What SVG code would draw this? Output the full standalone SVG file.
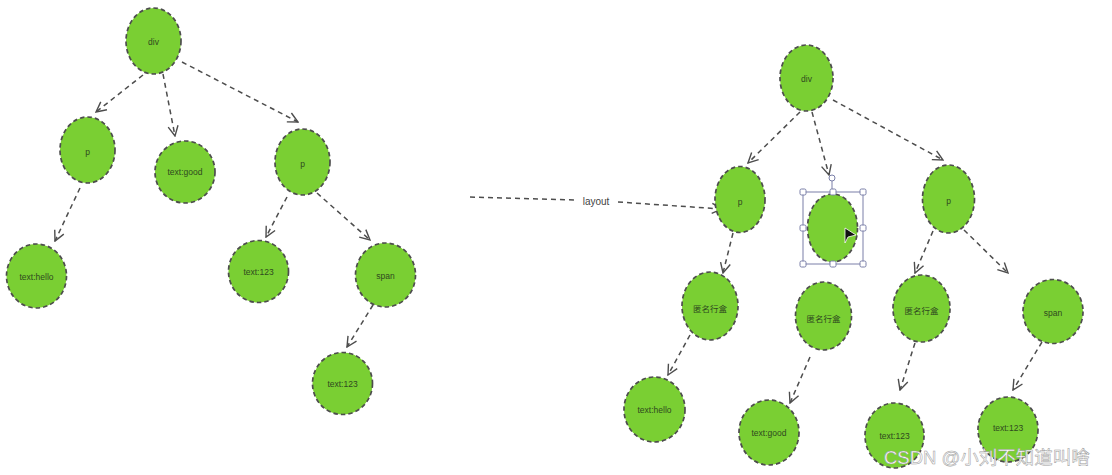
<svg xmlns="http://www.w3.org/2000/svg" width="1112" height="475" viewBox="0 0 1112 475">
<style>
.n{fill:#7acf33;stroke:#4d4d4d;stroke-width:1.7;stroke-dasharray:4.5 3}
.t{font-family:"Liberation Sans","Noto Sans CJK SC",sans-serif;font-size:8.5px;fill:#2f4a1f;text-anchor:middle;dominant-baseline:central}
.c{fill:none;stroke:#4d4d4d;stroke-width:1.5;stroke-dasharray:5 4;marker-end:url(#ah)}
.h{fill:#fff;stroke:#7a7fa8;stroke-width:1}
</style>
<defs>
<marker id="ah" viewBox="0 0 12 12" refX="11" refY="6" markerWidth="12" markerHeight="12" markerUnits="userSpaceOnUse" orient="auto">
<path d="M1,1 L11,6 L1,11" fill="none" stroke="#4d4d4d" stroke-width="1.4"/>
</marker>
</defs>
<rect width="1112" height="475" fill="#fff"/>
<g id="connectors">
<path class="c" d="M143,75 L96,112"/>
<path class="c" d="M163,74 L175,136"/>
<path class="c" d="M182,62 L298,122"/>
<path class="c" d="M80,188 L55,241"/>
<path class="c" d="M287,197 L266,237"/>
<path class="c" d="M317,193 L370,240"/>
<path class="c" d="M373,305 L347,347"/>
<path class="c" d="M800,112 L748,163"/>
<path class="c" d="M812,112 L829,175"/>
<path class="c" d="M833,100 L943,160"/>
<path class="c" d="M733,233 L723,273"/>
<path class="c" d="M933,231 L915,273"/>
<path class="c" d="M964,230 L1008,273"/>
<path class="c" d="M690,335 L668,375"/>
<path class="c" d="M810,357 L790,403"/>
<path class="c" d="M915,343 L900,390"/>
<path class="c" d="M1042,342 L1013,390"/>
<path fill="none" stroke="#4d4d4d" stroke-width="1.5" stroke-dasharray="5 4" d="M470,197 L574,200"/>
<path class="c" d="M618,202 L722,209"/>
<text x="596" y="201" font-family="Liberation Sans, sans-serif" font-size="10" fill="#444444" text-anchor="middle" dominant-baseline="central">layout</text>
</g>
<g id="l-div"><ellipse class="n" cx="153.5" cy="41" rx="27.5" ry="33"/><text class="t" x="153.5" y="42">div</text></g>
<g id="l-p1"><ellipse class="n" cx="87.5" cy="150" rx="27.5" ry="33"/><text class="t" x="87.5" y="152">p</text></g>
<g id="l-good"><ellipse class="n" cx="185" cy="172" rx="30" ry="31"/><text class="t" x="185" y="172">text:good</text></g>
<g id="l-p2"><ellipse class="n" cx="302.5" cy="162" rx="27.5" ry="33"/><text class="t" x="302.5" y="164">p</text></g>
<g id="l-hello"><ellipse class="n" cx="36.5" cy="276" rx="30" ry="32"/><text class="t" x="36.5" y="277">text:hello</text></g>
<g id="l-123a"><ellipse class="n" cx="258.5" cy="271.5" rx="30" ry="31"/><text class="t" x="258.5" y="272">text:123</text></g>
<g id="l-span"><ellipse class="n" cx="385.5" cy="275" rx="30" ry="32"/><text class="t" x="385.5" y="276">span</text></g>
<g id="l-123b"><ellipse class="n" cx="342.5" cy="383.5" rx="30" ry="31"/><text class="t" x="342.5" y="384">text:123</text></g>

<g id="r-div"><ellipse class="n" cx="806.5" cy="78" rx="26.5" ry="33"/><text class="t" x="806.5" y="79">div</text></g>
<g id="r-p1"><ellipse class="n" cx="740" cy="199.5" rx="25" ry="33"/><text class="t" x="740" y="202">p</text></g>
<g id="r-sel">
<ellipse class="n" cx="832.5" cy="228" rx="25" ry="34"/>
<rect x="803" y="192" width="60" height="72" fill="none" stroke="#7a7fa8" stroke-width="1"/>
<line x1="832" y1="181" x2="832" y2="192" stroke="#7a7fa8" stroke-width="1"/>
<circle class="h" cx="832" cy="178" r="3"/>
<rect class="h" x="800" y="189" width="6" height="6" rx="1.5"/>
<rect class="h" x="830" y="189" width="6" height="6" rx="1.5"/>
<rect class="h" x="860" y="189" width="6" height="6" rx="1.5"/>
<rect class="h" x="800" y="225" width="6" height="6" rx="1.5"/>
<rect class="h" x="860" y="225" width="6" height="6" rx="1.5"/>
<rect class="h" x="800" y="261" width="6" height="6" rx="1.5"/>
<rect class="h" x="830" y="261" width="6" height="6" rx="1.5"/>
<rect class="h" x="860" y="261" width="6" height="6" rx="1.5"/>
<path d="M845,228 L856,235 L848,237 L845,243 Z" fill="#111" stroke="#fff" stroke-width="0.8"/>
</g>
<g id="r-p2"><ellipse class="n" cx="948.5" cy="199" rx="26" ry="34"/><text class="t" x="948.5" y="201">p</text></g>
<g id="r-anon1"><ellipse class="n" cx="710" cy="306" rx="28" ry="34"/><text class="t" x="710" y="309">匿名行盒</text></g>
<g id="r-anon2"><ellipse class="n" cx="823.5" cy="316" rx="28" ry="34"/><text class="t" x="823.5" y="319">匿名行盒</text></g>
<g id="r-anon3"><ellipse class="n" cx="921.5" cy="308.5" rx="28.5" ry="33.5"/><text class="t" x="921.5" y="311">匿名行盒</text></g>
<g id="r-span"><ellipse class="n" cx="1053" cy="311.5" rx="30" ry="32"/><text class="t" x="1053" y="313">span</text></g>
<g id="r-hello"><ellipse class="n" cx="654.5" cy="409.5" rx="30.5" ry="32.5"/><text class="t" x="654.5" y="410">text:hello</text></g>
<g id="r-good"><ellipse class="n" cx="769" cy="432.5" rx="30" ry="32.5"/><text class="t" x="769" y="433">text:good</text></g>
<g id="r-123a"><ellipse class="n" cx="894.5" cy="435.5" rx="29.5" ry="32.5"/><text class="t" x="894.5" y="436">text:123</text></g>
<g id="r-123b"><ellipse class="n" cx="1008" cy="429.5" rx="30" ry="32.5"/><text class="t" x="1008" y="428">text:123</text></g>
<text x="884" y="464" font-family="Liberation Sans,'Noto Sans CJK SC',sans-serif" font-size="18.5" fill="#fff" stroke="#9a9a9a" stroke-width="0.5">CSDN @小刘不知道叫啥</text>
</svg>
